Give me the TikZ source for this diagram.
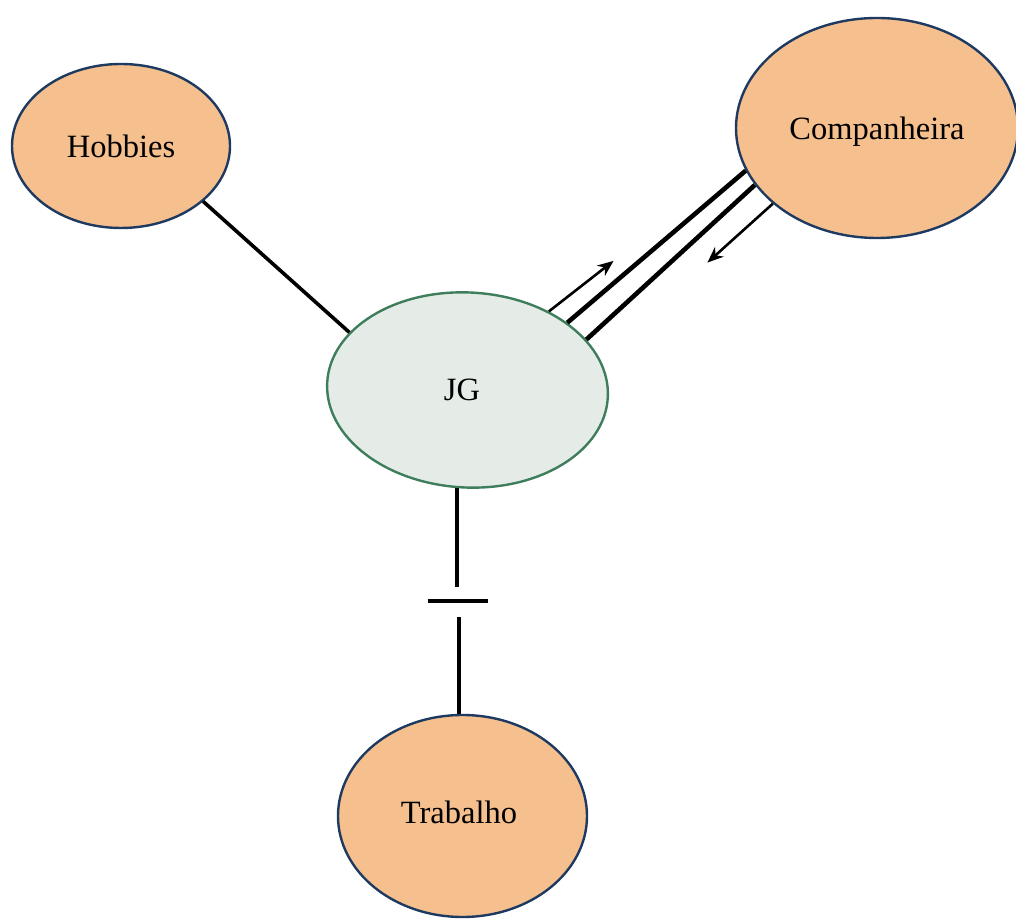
\documentclass[tikz,border=0pt]{standalone}
\usepackage{fontspec}
\setmainfont{Liberation Serif}
\usetikzlibrary{shapes.geometric,arrows.meta,calc}
\definecolor{orfill}{HTML}{F6BF8E}
\definecolor{orline}{HTML}{1F3A60}
\definecolor{jgfill}{HTML}{E5ECE8}
\definecolor{jgline}{HTML}{3E7E5C}
\tikzset{
  bubble/.style={ellipse, draw=orline, fill=orfill, line width=2.4pt, inner sep=0pt,
    font=\fontsize{32.5}{39}\selectfont},
  center/.style={ellipse, draw=jgline, fill=jgfill, line width=2.4pt, inner sep=0pt,
    font=\fontsize{32.5}{39}\selectfont},
  tie/.style={line width=4.6pt, line cap=butt},
  plain/.style={line width=3.6pt},
  flow/.style={line width=2.6pt, -{Stealth[length=16pt,width=13pt]}}
}
\begin{document}
\begin{tikzpicture}[x=1pt,y=1pt]
\useasboundingbox (0,0) rectangle (1016,918);
\node[bubble, minimum width=218pt, minimum height=164pt] (hob) at (121,772) {Hobbies};
\node[bubble, minimum width=282pt, minimum height=220pt] (comp) at (877,790) {};
\node[font=\fontsize{32.5}{39}\selectfont] (complbl) at (877,786) {Companheira};
\node[center, minimum width=281pt, minimum height=195pt, rotate=-3] (jg) at (467.5,528) {};
\node[font=\fontsize{32.5}{39}\selectfont] (jglbl) at (462,528) {JG};
\node[bubble, minimum width=249pt, minimum height=202pt] (trab) at (462.5,102) {};
\node[font=\fontsize{32.5}{39}\selectfont] (trablbl) at (459,106) {Trabalho};

% Hobbies link
\draw[plain] (hob.-34.5) -- (jg.157);

% Companheira links
\draw[tie] (jg.37) -- (comp.198.7);
\draw[tie] (jg.26) -- (comp.205.6);
\coordinate (upEnd) at ($(jg.47)+(38:82)$);
\draw[flow] (jg.47) -- (upEnd);
\coordinate (downEnd) at ($(comp.216.7)+(222:88)$);
\draw[flow] (comp.216.7) -- (downEnd);

% Trabalho broken link
\coordinate (mid) at (457.5,317);
\draw[plain] (jg.-93) -- (jg.-93 |- {$(mid)+(0,14)$});
\draw[plain] ($(mid)+(-30,0)$) -- ($(mid)+(30,0)$);
\draw[plain] (trab.92 |- {$(mid)+(0,-16)$}) -- (trab.92);
\end{tikzpicture}
\end{document}
